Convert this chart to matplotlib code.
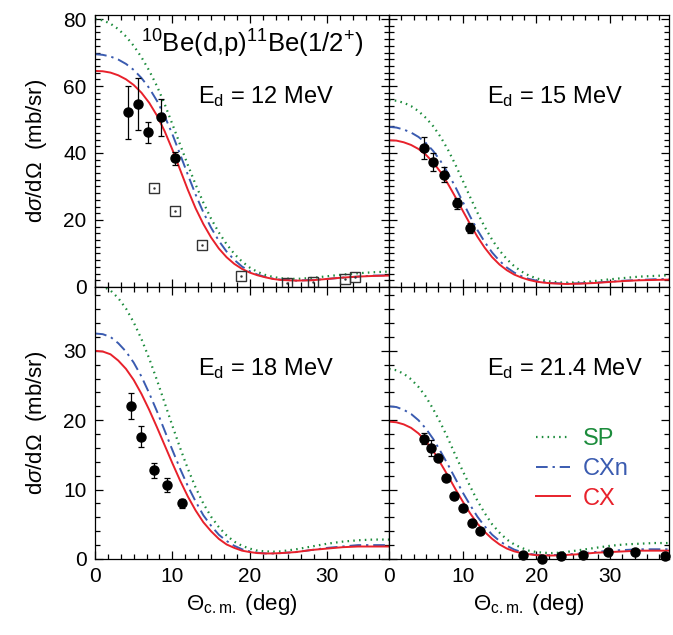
import numpy as np
import matplotlib
matplotlib.use("Agg")
from matplotlib import pyplot as plt
from matplotlib.ticker import MultipleLocator

plt.rcParams["font.family"] = ["Liberation Sans", "DejaVu Sans"]
plt.rcParams["mathtext.fontset"] = "custom"
plt.rcParams["mathtext.rm"] = "Liberation Sans"
plt.rcParams["mathtext.it"] = "Liberation Sans:italic"

# ---------------------------------------
# Data
# ---------------------------------------

theta = [0, 1, 2, 3, 4, 5, 6, 7, 8, 9, 10, 11, 12, 13, 14, 15, 16, 17, 18, 19, 20,
         21, 22, 23, 24, 26, 28, 30, 32, 34, 36, 38]

# Ed = 12 MeV
cx_12 = [64.5, 64.4, 64.0, 63.2, 62.0, 60.3, 58.0, 55.0, 51.2, 46.5, 41.0, 35.0, 29.0, 23.5, 18.8, 14.8,
         11.5, 8.9, 6.9, 5.4, 4.3, 3.5, 2.9, 2.4, 2.1, 1.9, 2.0, 2.4, 2.8, 3.1, 3.3, 3.4]
cxn_12 = [69.5, 69.3, 68.8, 67.9, 66.6, 64.8, 62.4, 59.4, 55.6, 51.0, 45.6, 39.6, 33.5, 27.6, 22.3, 17.7,
          13.8, 10.6, 8.1, 6.1, 4.7, 3.7, 3.0, 2.5, 2.2, 1.9, 2.1, 2.4, 2.8, 3.1, 3.4, 3.5]
sp_12 = [80.0, 79.6, 78.6, 77.0, 74.8, 72.0, 68.6, 64.6, 60.0, 54.6, 48.6, 42.5, 36.4, 30.6, 25.2, 20.4,
         16.3, 12.8, 9.9, 7.6, 5.8, 4.5, 3.6, 3.0, 2.6, 2.4, 2.7, 3.2, 3.7, 4.1, 4.4, 4.6]
exp_th_12 = [4.3, 5.6, 6.9, 8.5, 10.3]
exp_y_12 = [52.1, 54.6, 46.2, 50.6, 38.4]
exp_err_12 = [8.0, 7.8, 3.1, 5.6, 2.0]
old_th_12 = [7.6, 10.3, 13.8, 18.9, 24.8, 28.2, 32.3, 33.6]
old_y_12 = [29.5, 22.6, 12.4, 3.2, 1.1, 1.5, 2.4, 2.9]

# Ed = 15 MeV
cx_15 = [43.8, 43.7, 43.2, 42.4, 41.2, 39.5, 37.2, 34.3, 30.8, 26.9, 22.8, 18.8, 15.0, 11.7, 8.9, 6.7,
         5.0, 3.7, 2.8, 2.1, 1.6, 1.3, 1.1, 1.0, 0.9, 1.0, 1.2, 1.5, 1.8, 2.0, 2.1, 2.2]
cxn_15 = [47.8, 47.6, 47.0, 46.1, 44.8, 43.0, 40.6, 37.6, 34.0, 29.9, 25.5, 21.1, 17.0, 13.4, 10.3, 7.8,
          5.8, 4.3, 3.2, 2.4, 1.9, 1.5, 1.2, 1.1, 1.0, 1.1, 1.3, 1.6, 1.9, 2.1, 2.3, 2.4]
sp_15 = [55.8, 55.6, 55.0, 54.0, 52.5, 50.5, 48.0, 44.8, 41.0, 36.6, 31.8, 26.9, 22.2, 17.9, 14.1, 10.9,
         8.3, 6.2, 4.6, 3.4, 2.6, 2.0, 1.6, 1.4, 1.3, 1.4, 1.8, 2.3, 2.7, 3.1, 3.3, 3.5]
exp_th_15 = [4.7, 6.0, 7.5, 9.2, 11.0]
exp_y_15 = [41.6, 37.4, 33.5, 25.0, 17.7]
exp_err_15 = [3.3, 2.7, 2.2, 1.7, 1.5]

# Ed = 18 MeV
cx_18 = [30.0, 29.9, 29.5, 28.6, 27.4, 25.8, 23.8, 21.5, 19.0, 16.4, 13.8, 11.3, 9.0, 7.0, 5.3, 4.0,
         2.9, 2.1, 1.6, 1.2, 1.0, 0.85, 0.8, 0.8, 0.85, 1.0, 1.3, 1.5, 1.7, 1.8, 1.8, 1.8]
cxn_18 = [32.5, 32.4, 32.0, 31.1, 29.9, 28.3, 26.3, 23.9, 21.3, 18.5, 15.7, 13.0, 10.5, 8.3, 6.3, 4.8,
          3.5, 2.6, 1.9, 1.4, 1.1, 0.9, 0.8, 0.8, 0.85, 1.0, 1.3, 1.6, 1.8, 2.0, 2.0, 2.0]
sp_18 = [39.5, 39.3, 38.7, 37.6, 36.1, 34.1, 31.7, 28.9, 25.8, 22.5, 19.2, 16.0, 13.0, 10.3, 8.0, 6.1,
         4.6, 3.4, 2.5, 1.9, 1.5, 1.2, 1.1, 1.05, 1.1, 1.4, 1.8, 2.2, 2.5, 2.7, 2.8, 2.8]
exp_th_18 = [4.6, 6.0, 7.6, 9.3, 11.2]
exp_y_18 = [22.0, 17.6, 12.8, 10.7, 8.0]
exp_err_18 = [1.85, 1.5, 1.1, 1.0, 0.7]

# Ed = 21.4 MeV
cx_21 = [19.8, 19.7, 19.4, 18.9, 18.1, 17.0, 15.6, 13.8, 12.0, 10.1, 8.3, 6.6, 5.1, 3.9, 2.9, 2.1,
         1.5, 1.1, 0.85, 0.68, 0.55, 0.5, 0.5, 0.52, 0.58, 0.7, 0.9, 1.0, 1.1, 1.2, 1.2, 1.2]
cxn_21 = [22.0, 21.9, 21.5, 20.9, 20.0, 18.8, 17.3, 15.5, 13.6, 11.6, 9.6, 7.8, 6.1, 4.7, 3.5, 2.6,
          1.9, 1.35, 1.0, 0.75, 0.6, 0.55, 0.55, 0.6, 0.65, 0.8, 1.0, 1.2, 1.3, 1.4, 1.4, 1.4]
sp_21 = [27.4, 27.2, 26.7, 25.9, 24.8, 23.4, 21.6, 19.6, 17.4, 15.0, 12.7, 10.5, 8.4, 6.6, 5.0, 3.8,
         2.8, 2.1, 1.6, 1.2, 1.0, 0.9, 0.85, 0.9, 1.0, 1.3, 1.6, 1.9, 2.1, 2.2, 2.3, 2.3]
exp_th_21 = [4.7, 5.7, 6.65, 7.7, 8.8, 10.0, 11.3, 12.4, 18.2, 20.7, 23.4, 26.3, 29.7, 33.4, 37.5]
exp_y_21 = [17.3, 16.0, 14.6, 11.7, 9.1, 7.3, 5.2, 4.0, 0.6, 0.0, 0.5, 0.6, 1.0, 1.0, 0.5]
exp_err_21 = [0.8, 1.1, 0.5, 0.3, 0.3, 0.2, 0.2, 0.2, 0.1, 0.1, 0.1, 0.1, 0.1, 0.1, 0.1]

energies = ["12", "15", "18", "21.4"]

# ---------------------------------------
# Styles
# ---------------------------------------

c_sp = "#1c8c3c"
c_cxn = "#3a5bb0"
c_cx = "#e8212b"

fig = plt.figure(figsize=(6.73, 6.35), dpi=100)
gs = fig.add_gridspec(2, 2, left=0.1412, right=0.994, top=0.9764, bottom=0.1197,
                      wspace=0, hspace=0, width_ratios=[294, 280])
axes = [[fig.add_subplot(gs[r, c]) for c in range(2)] for r in range(2)]

panels = [
    (axes[0][0], cx_12, cxn_12, sp_12, exp_th_12, exp_y_12, exp_err_12, 81.2, 20),
    (axes[0][1], cx_15, cxn_15, sp_15, exp_th_15, exp_y_15, exp_err_15, 81.2, 20),
    (axes[1][0], cx_18, cxn_18, sp_18, exp_th_18, exp_y_18, exp_err_18, 39.2, 10),
    (axes[1][1], cx_21, cxn_21, sp_21, exp_th_21, exp_y_21, exp_err_21, 39.2, 10),
]

for i, (ax, cx, cxn, sp, eth, ey, eerr, ymax, ymaj) in enumerate(panels):
    ax.plot(theta, sp, color=c_sp, lw=1.6, dashes=(0.7, 1.9), label="SP")
    ax.plot(theta, cxn, color=c_cxn, lw=1.4, dashes=(6, 2.5, 1.2, 2.5), label="CXn")
    ax.plot(theta, cx, color=c_cx, lw=1.4, label="CX")
    ax.errorbar(eth, ey, yerr=eerr, fmt="o", color="black", ms=6.5, capsize=2.5,
                elinewidth=0.9, capthick=0.9, clip_on=False, zorder=5)
    ax.set_xlim(0, 38)
    ax.set_ylim(0, ymax)
    ax.xaxis.set_major_locator(MultipleLocator(10))
    ax.xaxis.set_minor_locator(MultipleLocator(10 / 6))
    ax.yaxis.set_major_locator(MultipleLocator(ymaj))
    ax.yaxis.set_minor_locator(MultipleLocator(2))
    ax.tick_params(which="both", direction="in", top=True, right=True, width=0.9)
    ax.tick_params(which="major", length=6, labelsize=15, pad=6)
    ax.tick_params(which="minor", length=3.5)
    for s in ax.spines.values():
        s.set_linewidth(0.9)
    row, col = divmod(i, 2)
    if row == 0:
        ax.set_xticklabels([])
    else:
        ax.set_xlabel(r"$\Theta_{\rm c.m.}$ (deg)", fontsize=16, labelpad=4)
    if col == 1:
        ax.set_yticklabels([])
    else:
        ax.set_ylabel(r"d$\sigma$/d$\Omega$  (mb/sr)", fontsize=16, labelpad=10)
    ax.text(0.35, 0.70, r"E$_{\rm d}$ = %s MeV" % energies[i],
            transform=ax.transAxes, fontsize=17, ha="left", va="center")

# open squares (older data) on the 12 MeV panel
ax0 = axes[0][0]
ax0.plot(old_th_12, old_y_12, "s", mfc="none", mec="#333333", ms=6.8, mew=1.0, zorder=4)
ax0.plot(old_th_12, old_y_12, ".", color="#333333", ms=1.5, zorder=4)
ax0.text(0.535, 0.895, r"$^{10}$Be(d,p)$^{11}$Be(1/2$^{+}$)", transform=ax0.transAxes,
         fontsize=18.5, ha="center", va="center")

leg = axes[1][1].legend(loc="upper left", bbox_to_anchor=(0.525, 0.48), frameon=False,
                        fontsize=17, handlelength=1.45, handletextpad=0.55, labelspacing=0.32,
                        borderpad=0, borderaxespad=0)
for t, c in zip(leg.get_texts(), [c_sp, c_cxn, c_cx]):
    t.set_color(c)

fig.savefig("out.png", dpi=100)
